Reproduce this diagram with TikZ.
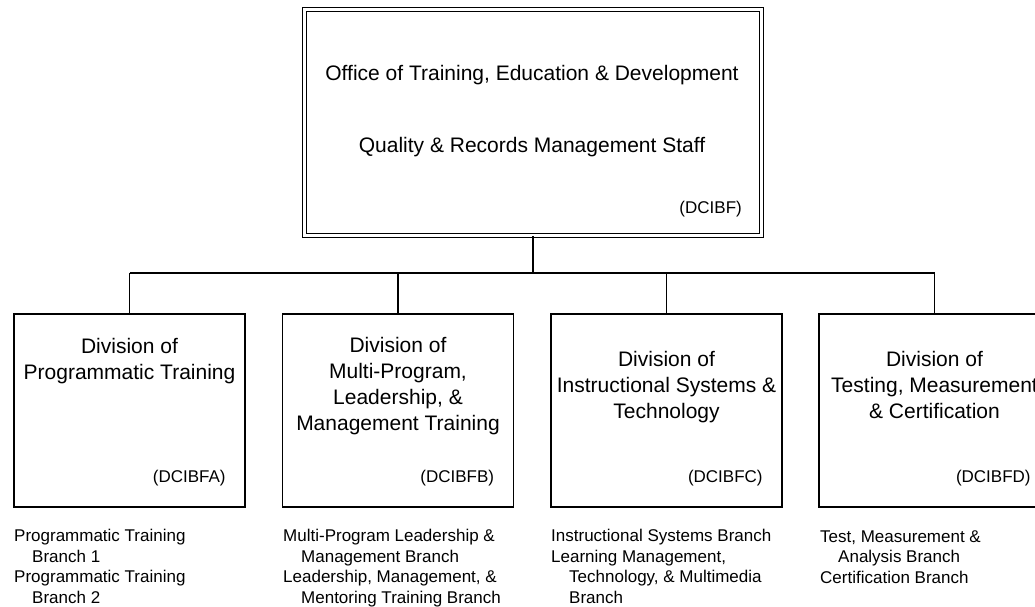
\documentclass[tikz,border=0pt]{standalone}
\usepackage{fontspec}
\setmainfont{Liberation Sans}
\usetikzlibrary{calc}

\begin{document}
\begin{tikzpicture}[x=1pt,y=-1pt,inner sep=0pt,
  office/.style={draw,double,line width=1.3pt,double distance=2.5pt,minimum width=457pt,minimum height=226pt},
  division/.style={draw,line width=1.6pt,minimum width=231pt,minimum height=193pt},
  big/.style={font=\fontsize{21}{26}\selectfont,align=center,anchor=base},
  small/.style={font=\fontsize{17}{20.4}\selectfont,align=left,anchor=base west},
  code/.style={font=\fontsize{17}{20}\selectfont,anchor=base east}]
\useasboundingbox (0,0) rectangle (1035,606);
\clip (0,0) rectangle (1035,606);
\def\ind{\hspace*{18pt}}
% office
\node[office] (top) at (533, 122.5) {};
\node[big] (topa) at (532, 80) {Office of Training, Education \& Development};
\node[big] (topb) at (532, 152) {Quality \& Records Management Staff};
\node[code] (topc) at (742, 213) {(DCIBF)};
% divisions (base = last line)
\node[division] (d1) at (129.5, 410.5) {};
\node[division] (d2) at (398, 410.5) {};
\node[division] (d3) at (666.5, 410.5) {};
\node[division] (d4) at (934.5, 410.5) {};
\node[big] (d1t) at (129.5, 379) {Division of\\Programmatic Training};
\node[big] (d2t) at (398, 430) {Division of\\Multi-Program,\\Leadership, \&\\Management Training};
\node[big] (d3t) at (666.5, 418) {Division of\\Instructional Systems \&\\Technology};
\node[big] (d4t) at (934.5, 418) {Division of\\Testing, Measurement\\\& Certification};
\node[code] (d1c) at ($(d1.south east)+(-20,-25)$) {(DCIBFA)};
\node[code] (d2c) at ($(d2.south east)+(-20,-25)$) {(DCIBFB)};
\node[code] (d3c) at ($(d3.south east)+(-20,-25)$) {(DCIBFC)};
\node[code] (d4c) at ($(d4.south east)+(-20,-25)$) {(DCIBFD)};
% branches
\node[small] (b1) at (14, 603) {Programmatic Training\\\ind Branch 1\\Programmatic Training\\\ind Branch 2};
\node[small] (b2) at (283, 603) {Multi-Program Leadership \&\\\ind Management Branch\\Leadership, Management, \&\\\ind Mentoring Training Branch};
\node[small] (b3) at (551, 603) {Instructional Systems Branch\\Learning Management,\\\ind Technology, \& Multimedia\\\ind Branch};
\node[small] (b4) at (820, 583) {Test, Measurement \&\\\ind Analysis Branch\\Certification Branch};
% connectors
\coordinate (bar) at (532, 273);
\draw[line width=1.6pt] (top.south) -- (top.south |- bar);
\draw[line width=1.6pt] (d1.north |- bar) -- (d4.north |- bar);
\foreach \i in {1,...,4}
  \draw[line width=1.6pt] (d\i.north |- bar) -- (d\i.north);
\end{tikzpicture}
\end{document}
